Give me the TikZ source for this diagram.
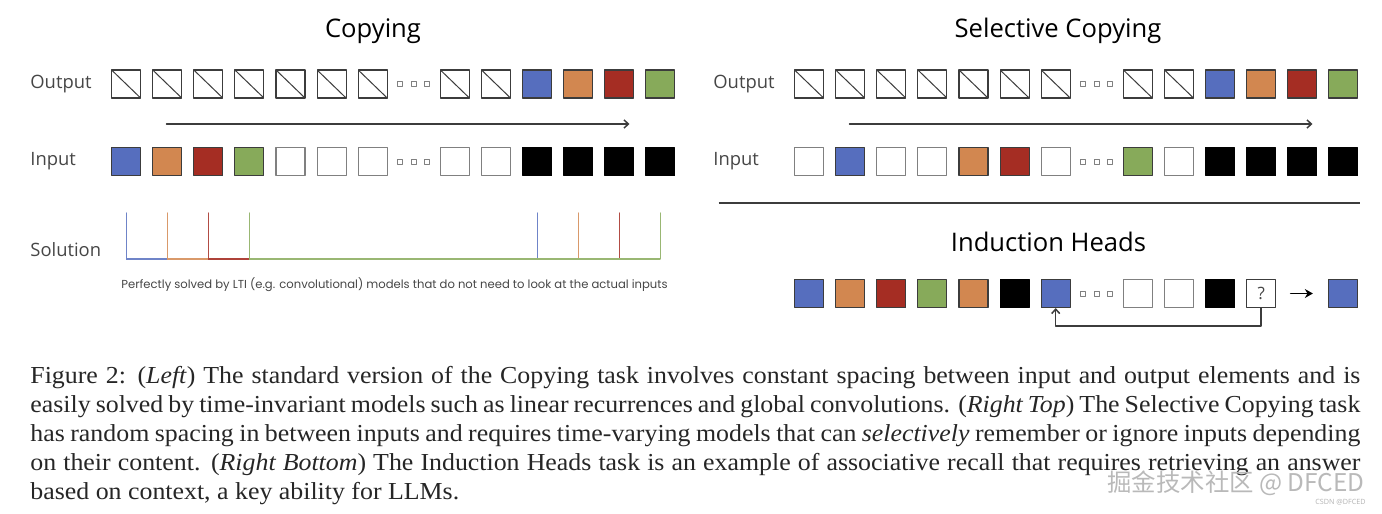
\documentclass[tikz,border=0pt]{standalone}
\usepackage{fontspec}
\setmainfont{Liberation Serif}[FakeStretch=1.06]
\newfontfamily\labelfont{Open Sans}
\newfontfamily\notefont{Poppins}
\newfontfamily\cjkfont{Noto Sans CJK SC}
\usetikzlibrary{arrows.meta}

\definecolor{cblue}{RGB}{86,110,190}
\definecolor{corange}{RGB}{210,135,80}
\definecolor{cred}{RGB}{165,45,35}
\definecolor{cgreen}{RGB}{135,170,90}
\definecolor{edge}{RGB}{60,60,60}
\definecolor{txt}{RGB}{70,70,70}

\begin{document}
\begin{tikzpicture}[x=0.5pt,y=-0.5pt,>={Straight Barb[length=2.2pt,width=4pt]},line cap=round,line join=round,
  cell/.style={draw=edge,line width=0.55pt,minimum width=14.5pt,minimum height=14pt,inner sep=0pt},
  cell h/.style={fill=white,path picture={\draw[edge,line width=0.5pt] (path picture bounding box.north west) -- (path picture bounding box.south east);}},
  cell w/.style={fill=white,draw=gray},
  cell k/.style={fill=black,draw=black},
  cell B/.style={fill=cblue},
  cell O/.style={fill=corange},
  cell R/.style={fill=cred},
  cell G/.style={fill=cgreen},
  cell q/.style={fill=white,font=\labelfont\fontsize{8.5}{9}\selectfont,text=txt},
  cell d/.style={draw=none,minimum width=20pt,path picture={
    \foreach \dx in {-13.5,0,13.5}
      \draw[gray,line width=0.5pt] ([xshift=\dx*0.5pt]path picture bounding box.center) +(-2.5,-2.5) rectangle +(2.5,2.5);}},
  rowlabel/.style={anchor=west,inner sep=0pt,text=txt,font=\labelfont\fontsize{9.2}{11}\selectfont},
  title/.style={anchor=base,inner sep=0pt,font=\labelfont\fontsize{12.8}{14}\selectfont}]
\useasboundingbox (0,0) rectangle (1382,514);

% Copying
\node[title] (tcopy) at (373,37.5) {Copying};
\node[rowlabel] (lout) at (30,84) {Output};
\node[rowlabel] (lin) at (30,161.5) {Input};
\foreach \c [count=\i from 0] in {h,h,h,h,h,h,h,d,h,h,B,O,R,G}
  \node[cell,cell \c] (out\i) at (126.1+41.1*\i,84) {};
\foreach \c [count=\i from 0] in {B,O,R,G,w,w,w,d,w,w,k,k,k,k}
  \node[cell,cell \c] (in\i) at (126.1+41.1*\i,161.5) {};
\coordinate (a1) at (166.5,124);
\coordinate (a2) at (629.5,124);
\draw[->,edge,line width=0.75pt] (a1) -- (a2);

% solution
\node[rowlabel] (lsol) at (30,250) {Solution};
\coordinate (soltop) at (0,213);
\coordinate (solbase) at (0,259);
\foreach \i/\c in {0/cblue,1/corange,2/cred,3/cgreen,10/cblue,11/corange,12/cred,13/cgreen}
  \draw[\c!85,line width=0.55pt] (in\i |- soltop) -- (in\i |- solbase);
\draw[cblue!85,line width=1pt,line cap=butt] (in0 |- solbase) -- (in1 |- solbase);
\draw[corange!85,line width=1pt,line cap=butt] (in1 |- solbase) -- (in2 |- solbase);
\draw[cred!90,line width=1.2pt,line cap=butt] (in2 |- solbase) -- (in3 |- solbase);
\draw[cgreen!85,line width=1pt,line cap=butt] (in3 |- solbase) -- (in13 |- solbase);
\node[anchor=west,inner sep=0pt,text=txt,font=\notefont\fontsize{5.8}{6.5}\selectfont] (note) at (121,285)
  {Perfectly solved by LTI (e.g. convolutional) models that do not need to look at the actual inputs};

% Selective Copying
\node[title] (tsel) at (1058,37.5) {Selective Copying};
\node[rowlabel] (rout) at (713,84) {Output};
\node[rowlabel] (rin) at (713,161.5) {Input};
\foreach \c [count=\i from 0] in {h,h,h,h,h,h,h,d,h,h,B,O,R,G}
  \node[cell,cell \c] (sout\i) at (809.1+41.1*\i,84) {};
\foreach \c [count=\i from 0] in {w,B,w,w,O,R,w,d,G,w,k,k,k,k}
  \node[cell,cell \c] (sin\i) at (809.1+41.1*\i,161.5) {};
\coordinate (b1) at (849.5,124);
\coordinate (b2) at (1312.5,124);
\draw[->,edge,line width=0.75pt] (b1) -- (b2);

\coordinate (sep1) at (718.7,202.7);
\coordinate (sep2) at (1360,202.7);
\draw[edge,line width=1pt,line cap=butt] (sep1) -- (sep2);

% Induction Heads
\node[title] (tind) at (1048.5,251.7) {Induction Heads};
\foreach \c [count=\i from 0] in {B,O,R,G,O,k,B,d,w,w,k}
  \node[cell,cell \c] (ih\i) at (809.1+41.1*\i,293.5) {};
\node[cell,cell q] (ih11) at (809.1+41.1*11,293.5) {?};
\node[cell,cell B] (ih13) at (809.1+41.1*13,293.5) {};
\draw[-{Stealth[length=4pt,width=4.5pt]},black,line width=0.8pt,shorten <=7.25pt,shorten >=7.75pt] (ih11) -- (ih13);
\draw[->,edge,line width=0.75pt,line cap=butt] (ih11.south) -- ++(0,18) -| (ih6.south);

% caption
\node[anchor=base west,inner sep=0pt,text width=665pt,align=justify,text=black!85,font=\fontsize{12.2}{14.5}\selectfont] (cap) at (30,383)
  {Figure 2: (\textit{Left}) The standard version of the Copying task involves constant spacing between input and output elements and is\linebreak
   easily solved by time-invariant models such as linear recurrences and global convolutions. (\textit{Right Top}) The Selective Copying task\linebreak
   has random spacing in between inputs and requires time-varying models that can \textit{selectively} remember or ignore inputs depending\linebreak
   on their content. (\textit{Right Bottom}) The Induction Heads task is an example of associative recall that requires retrieving an answer\linebreak
   based on context, a key ability for LLMs.};

% watermark
\node[anchor=base east,inner sep=0pt,text=gray!55,font=\cjkfont\fontsize{12.2}{13}\selectfont] (wm) at (1365,491) {掘金技术社区 @ DFCED};
\node[anchor=base east,inner sep=0pt,text=gray!60,font=\labelfont\fontsize{3.6}{4}\selectfont] (wm2) at (1366,504) {CSDN @DFCED};
\end{tikzpicture}
\end{document}
